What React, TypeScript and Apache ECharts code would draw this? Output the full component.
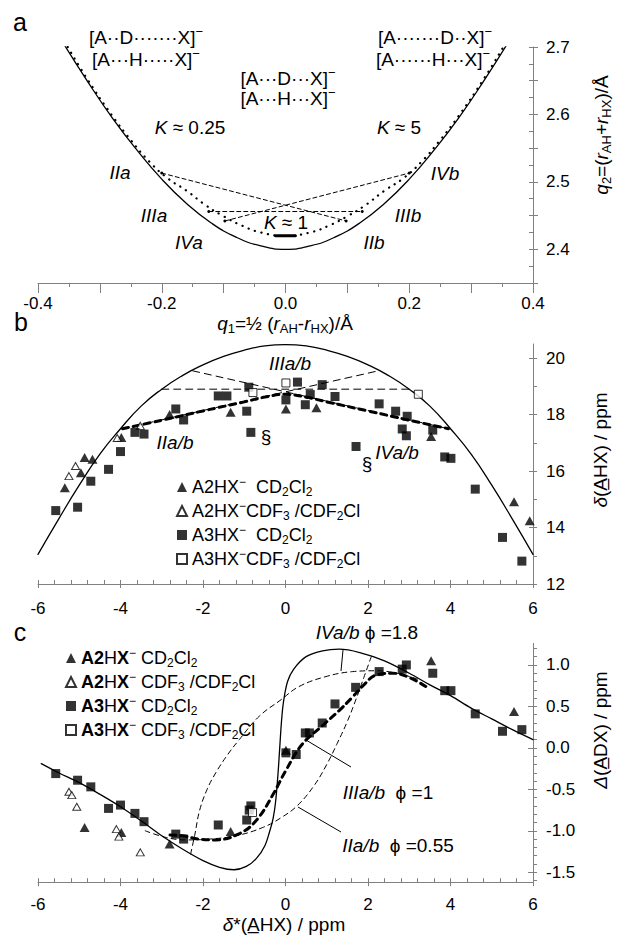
import React, { useEffect, useRef } from 'react';
import * as echarts from 'echarts';

const FONT = '"Liberation Sans", Arial, Helvetica, sans-serif';
const AX = '#808080';

// ---------------- panel a : q2 vs q1 ----------------
const aSolid = [[-0.36, 2.707], [-0.32, 2.649], [-0.28, 2.595], [-0.24, 2.547], [-0.2, 2.504], [-0.16, 2.468], [-0.12, 2.439], [-0.08, 2.418], [-0.04, 2.405], [0, 2.4], [0.04, 2.405], [0.08, 2.418], [0.12, 2.439], [0.16, 2.468], [0.2, 2.504], [0.24, 2.547], [0.28, 2.595], [0.32, 2.649], [0.36, 2.707]];
const aDotted = [[-0.352, 2.7], [-0.32, 2.652], [-0.28, 2.598], [-0.25, 2.562], [-0.22, 2.53], [-0.19, 2.505], [-0.16, 2.487], [-0.13, 2.466], [-0.1, 2.449], [-0.07, 2.435], [-0.04, 2.425], [0, 2.42], [0.04, 2.425], [0.07, 2.435], [0.1, 2.449], [0.13, 2.466], [0.16, 2.487], [0.19, 2.505], [0.22, 2.53], [0.25, 2.562], [0.28, 2.598], [0.32, 2.652], [0.352, 2.7]];
const aLineII = [[-0.2, 2.513], [0.098, 2.442]];
const aLineIV = [[-0.098, 2.442], [0.2, 2.513]];
const aLineIII = [[-0.124, 2.456], [0.124, 2.456]];
const aK1 = [[-0.016, 2.42], [0.016, 2.42]];
const aXTicksMajor = [-0.4, -0.3, -0.2, -0.1, 0, 0.1, 0.2, 0.3, 0.4];
const aXTicksMinor = [-0.35, -0.25, -0.15, -0.05, 0.05, 0.15, 0.25, 0.35];
const aXLabels = [-0.4, -0.2, 0, 0.2, 0.4];
const aYTicksMajor = [2.35, 2.4, 2.45, 2.5, 2.55, 2.6, 2.65, 2.7];
const aYTicksAll = [2.35, 2.375, 2.4, 2.425, 2.45, 2.475, 2.5, 2.525, 2.55, 2.575, 2.6, 2.625, 2.65, 2.675, 2.7];
const aYLabels = [2.4, 2.5, 2.6, 2.7];

// ---------------- panel b : delta(AHX) vs delta* ----------------
const bSolid = [[-6, 13.05], [-5.5, 14.3], [-5, 15.5], [-4.5, 16.6], [-4, 17.5], [-3.5, 18.3], [-3, 18.9], [-2.5, 19.38], [-2, 19.76], [-1.5, 20.06], [-1, 20.28], [-0.5, 20.43], [0, 20.48], [0.5, 20.43], [1, 20.28], [1.5, 20.06], [2, 19.76], [2.5, 19.38], [3, 18.9], [3.5, 18.3], [4, 17.5], [4.5, 16.6], [5, 15.5], [5.5, 14.3], [6, 13.05]];
const bLineH = [[-3, 18.9], [3, 18.9]];
const bLineUp = [[-3.95, 17.5], [2.25, 19.55]];
const bLineDown = [[-2.25, 19.55], [3.95, 17.5]];
const bThick = [[-3.95, 17.5], [-3, 17.8], [-2, 18.13], [-1, 18.45], [-0.5, 18.62], [0, 18.72], [0.5, 18.62], [1, 18.45], [2, 18.13], [3, 17.8], [3.95, 17.5]];
const bA2CD = [[-5.35, 15.41], [-4.96, 15.94], [-4.87, 16.48], [-4.68, 16.42], [-3.98, 17.19], [-2.81, 18.0], [-1.33, 18.08], [0.01, 18.2], [0.75, 18.24], [3.53, 17.22], [5.54, 14.91], [5.92, 14.24]];
const bA2CF = [[-5.25, 15.82], [-5.09, 16.18], [-4.08, 17.17], [-3.52, 17.6]];
const bA3CD = [[-5.57, 14.6], [-5.04, 14.72], [-4.72, 15.64], [-4.29, 16.06], [-4.0, 16.69], [-3.65, 17.37], [-3.43, 17.31], [-2.66, 18.2], [-2.47, 17.81], [-1.63, 18.66], [-1.42, 18.66], [-0.94, 18.12], [-0.89, 18.97], [-0.84, 17.37], [0.01, 18.52], [0.29, 19.15], [0.48, 18.35], [0.6, 18.71], [0.89, 19.06], [1.2, 18.64], [1.71, 16.87], [2.27, 18.38], [2.67, 18.12], [2.95, 17.94], [2.83, 17.49], [2.93, 17.25], [3.57, 17.45], [3.86, 16.5], [4.01, 16.45], [4.6, 15.36], [5.26, 13.65], [5.73, 12.81]];
const bA3CF = [[-0.79, 18.78], [0.01, 19.12], [3.22, 18.72]];
const bcXTicksMajor = [-6, -4, -2, 0, 2, 4, 6];
const bcXTicksMinor = [-6, -5.6, -5.2, -4.8, -4.4, -4, -3.6, -3.2, -2.8, -2.4, -2, -1.6, -1.2, -0.8, -0.4, 0, 0.4, 0.8, 1.2, 1.6, 2, 2.4, 2.8, 3.2, 3.6, 4, 4.4, 4.8, 5.2, 5.6, 6];
const bYTicksAll = [12, 13, 14, 15, 16, 17, 18, 19, 20];
const bYTicksMajor = [12, 14, 16, 18, 20];

// ---------------- panel c : Delta(ADX) vs delta* ----------------
const cSolid = [[-5.92, -0.19], [-5.5, -0.3], [-5, -0.42], [-4.5, -0.56], [-4, -0.71], [-3.5, -0.88], [-3, -1.06], [-2.5, -1.22], [-2, -1.36], [-1.6, -1.44], [-1.25, -1.47], [-0.95, -1.43], [-0.7, -1.33], [-0.5, -1.18], [-0.38, -1.0], [-0.3, -0.85], [-0.24, -0.65], [-0.18, -0.3], [-0.14, 0.0], [-0.1, 0.3], [-0.05, 0.55], [0.05, 0.8], [0.2, 0.95], [0.5, 1.1], [0.9, 1.17], [1.3, 1.19], [1.8, 1.15], [2.4, 1.05], [3, 0.9], [3.5, 0.76], [4, 0.63], [4.5, 0.48], [5, 0.35], [5.5, 0.22], [6, 0.1]];
const cIVab = [[-2.3, -1.28], [-2.2, -1.05], [-2.08, -0.75], [-1.9, -0.5], [-1.69, -0.3], [-1.4, -0.08], [-1.12, 0.1], [-0.64, 0.38], [-0.11, 0.58], [0.33, 0.74], [0.98, 0.86], [1.63, 0.92], [2.2, 0.93], [2.7, 0.9], [3.2, 0.83]];
const cIIab = [[-3.4, -1.0], [-2.9, -1.08], [-2.4, -1.11], [-1.85, -1.1], [-1.2, -1.06], [-0.55, -0.96], [-0.1, -0.84], [0.3, -0.69], [0.7, -0.45], [1.0, -0.2], [1.25, 0.05], [1.5, 0.32], [1.72, 0.6], [1.9, 0.85], [2.08, 1.1]];
const cIIIab = [[-2.8, -1.05], [-2.5, -1.06], [-2.1, -1.1], [-1.7, -1.11], [-1.1, -1.03], [-0.7, -0.87], [-0.3, -0.56], [0, -0.28], [0.4, 0.04], [0.9, 0.27], [1.3, 0.45], [1.6, 0.6], [1.9, 0.76], [2.2, 0.88], [2.6, 0.9], [3.0, 0.85], [3.4, 0.74]];
const cA2CD = [[-4.87, -0.96], [-3.98, -1.02], [-2.81, -1.16], [-1.33, -1.01], [0.01, -0.03], [3.53, 1.05], [5.54, 0.44]];
const cA2CF = [[-5.25, -0.53], [-5.18, -0.57], [-5.06, -0.71], [-4.1, -0.98], [-4.04, -1.07], [-3.52, -1.26]];
const cA3CD = [[-5.57, -0.31], [-5.04, -0.39], [-4.72, -0.47], [-4.29, -0.73], [-4.0, -0.69], [-3.65, -0.79], [-3.43, -0.89], [-2.66, -1.04], [-2.47, -1.1], [-1.63, -0.93], [-0.94, -0.87], [-0.88, -0.75], [-0.84, -0.7], [0.01, -0.06], [0.26, -0.08], [0.48, 0.18], [0.58, 0.18], [0.89, 0.3], [1.2, 0.53], [1.7, 0.73], [2.27, 0.92], [2.83, 0.95], [2.93, 1.0], [3.57, 0.9], [3.86, 0.69], [4.01, 0.69], [4.6, 0.41], [5.26, 0.2], [5.73, 0.22]];
const cA3CF = [[-0.8, -0.78]];
const cYTicksAll = [-1.6, -1.5, -1.4, -1.3, -1.2, -1.1, -1.0, -0.9, -0.8, -0.7, -0.6, -0.5, -0.4, -0.3, -0.2, -0.1, 0, 0.1, 0.2, 0.3, 0.4, 0.5, 0.6, 0.7, 0.8, 0.9, 1.0, 1.1, 1.2];
const cYTicksMajor = [-1.5, -1.0, -0.5, 0, 0.5, 1.0];

const seriesNames = ['A2HX- CD2Cl2', 'A2HX- CDF3/CDF2Cl', 'A3HX- CD2Cl2', 'A3HX- CDF3/CDF2Cl'];
const legendB = [
  '{n|A2HX}{p|−}{n|  CD}{s|2}{n|Cl}{s|2}',
  '{n|A2HX}{p|−}{n|CDF}{s|3}{n| /CDF}{s|2}{n|Cl}',
  '{n|A3HX}{p|−}{n|  CD}{s|2}{n|Cl}{s|2}',
  '{n|A3HX}{p|−}{n|CDF}{s|3}{n| /CDF}{s|2}{n|Cl}',
];
const legendC = [
  '{b|A2}{n|H}{b|X}{p|−}{n| CD}{s|2}{n|Cl}{s|2}',
  '{b|A2}{n|H}{b|X}{p|−}{n| CDF}{s|3}{n| /CDF}{s|2}{n|Cl}',
  '{b|A3}{n|H}{b|X}{p|−}{n| CD}{s|2}{n|Cl}{s|2}',
  '{b|A3}{n|H}{b|X}{p|−}{n| CDF}{s|3}{n| /CDF}{s|2}{n|Cl}',
];

const RL = {
  n: { fontSize: 18, fontFamily: FONT, lineHeight: 22, color: '#000' },
  b: { fontSize: 18, fontFamily: FONT, lineHeight: 22, fontWeight: 'bold', color: '#000' },
  s: { fontSize: 12, fontFamily: FONT, lineHeight: 12, verticalAlign: 'bottom', color: '#000' },
  p: { fontSize: 12, fontFamily: FONT, lineHeight: 12, verticalAlign: 'top', color: '#000' },
};

const RG: any = {
  n: { fontSize: 19, fontFamily: FONT, lineHeight: 24 },
  i: { fontSize: 19, fontFamily: FONT, fontStyle: 'italic', lineHeight: 24 },
  s: { fontSize: 13, fontFamily: FONT, lineHeight: 13, verticalAlign: 'bottom' },
  L: { fontSize: 19, fontFamily: FONT, lineHeight: 24 },
  Lp: { fontSize: 13, fontFamily: FONT, lineHeight: 13, verticalAlign: 'top' },
  t: { fontSize: 19, fontFamily: FONT, fontStyle: 'italic', lineHeight: 24 },
  g: { fontSize: 25, fontFamily: FONT, lineHeight: 28 },
};

function T(x: number, y: number, text: string, rot = 0) {
  return {
    type: 'text',
    x,
    y,
    rotation: rot,
    silent: true,
    z: 50,
    style: {
      text,
      rich: RG,
      fill: '#000',
      fontSize: 19,
      fontFamily: FONT,
      align: 'center',
      verticalAlign: 'middle',
      textAlign: 'center',
      textVerticalAlign: 'middle',
    },
  };
}

function axis(o: any) {
  return {
    type: 'value',
    gridIndex: o.grid,
    min: o.min,
    max: o.max,
    position: o.pos,
    axisLine: { show: !!o.line, onZero: false, lineStyle: { color: AX, width: 1 } },
    axisTick: { show: true, inside: !!o.inside, length: o.len, customValues: o.ticks, lineStyle: { color: AX, width: 1 } },
    axisLabel: o.labels
      ? { show: true, customValues: o.labels, formatter: (v: number) => v.toFixed(o.dec), margin: o.margin, fontSize: 17, fontFamily: FONT, color: '#000' }
      : { show: false },
    splitLine: { show: false },
    axisPointer: { show: false },
  };
}

function line(idx: number, data: number[][], width: number, type: any, smooth: number | boolean = false, extra: any = {}) {
  return {
    type: 'line',
    xAxisIndex: idx,
    yAxisIndex: idx,
    data,
    symbol: 'none',
    showSymbol: false,
    smooth,
    silent: true,
    z: 2,
    lineStyle: { color: '#000', width, type, cap: 'round' },
    ...extra,
  };
}

const endDots = { symbol: 'circle', showSymbol: true, symbolSize: 3, itemStyle: { color: '#000' } };

function pts(idx: number, name: string, data: number[][], kind: string) {
  const filled = kind === 'ft' || kind === 'fs';
  const tri = kind === 'ft' || kind === 'ot';
  return {
    type: 'scatter',
    name,
    xAxisIndex: idx,
    yAxisIndex: idx,
    data,
    symbol: tri ? 'triangle' : 'rect',
    symbolSize: tri ? (filled ? [10, 9] : [8, 7]) : filled ? 9 : 8,
    itemStyle: filled ? { color: '#000' } : { color: '#fff', borderColor: '#000', borderWidth: 1 },
    z: 5,
    silent: true,
  };
}

function buildOption() {
  const grids = [
    { left: 38, top: 47, width: 495, height: 236 },
    { left: 38, top: 344, width: 495, height: 240 },
    { left: 38, top: 643.4, width: 495, height: 238.8 },
  ];
  const xAxis = [
    axis({ grid: 0, min: -0.4, max: 0.4, pos: 'bottom', line: true, len: 10, ticks: aXTicksMajor, labels: aXLabels, dec: 1, margin: 12 }),
    axis({ grid: 0, min: -0.4, max: 0.4, pos: 'bottom', len: 4, ticks: aXTicksMinor }),
    axis({ grid: 1, min: -6, max: 6, pos: 'bottom', line: true, len: 4, ticks: bcXTicksMajor, labels: bcXTicksMajor, dec: 0, margin: 16 }),
    axis({ grid: 1, min: -6, max: 6, pos: 'bottom', inside: true, len: 4, ticks: bcXTicksMinor }),
    axis({ grid: 2, min: -6, max: 6, pos: 'bottom', line: true, len: 4, ticks: bcXTicksMajor, labels: bcXTicksMajor, dec: 0, margin: 14 }),
    axis({ grid: 2, min: -6, max: 6, pos: 'bottom', inside: true, len: 4, ticks: bcXTicksMinor }),
  ];
  const yAxis = [
    axis({ grid: 0, min: 2.35, max: 2.7, pos: 'right', line: true, len: 5, ticks: aYTicksMajor, labels: aYLabels, dec: 1, margin: 13 }),
    axis({ grid: 0, min: 2.35, max: 2.7, pos: 'right', inside: true, len: 4, ticks: aYTicksAll }),
    axis({ grid: 1, min: 12, max: 20.5, pos: 'right', line: true, len: 4, ticks: bYTicksAll, labels: bYTicksMajor, dec: 0, margin: 13 }),
    axis({ grid: 1, min: 12, max: 20.5, pos: 'right', inside: true, len: 4, ticks: bYTicksMajor }),
    axis({ grid: 2, min: -1.62, max: 1.26, pos: 'right', line: true, len: 4, ticks: cYTicksAll, labels: cYTicksMajor, dec: 1, margin: 13 }),
    axis({ grid: 2, min: -1.62, max: 1.26, pos: 'right', inside: true, len: 5, ticks: cYTicksMajor }),
  ];

  const series: any[] = [
    // panel a
    line(0, aSolid, 1.3, 'solid', 0.5),
    line(0, aDotted, 2.2, [0.2, 6.5], 0.5),
    line(0, aLineII, 1, [4, 3], false, endDots),
    line(0, aLineIV, 1, [4, 3], false, endDots),
    line(0, aLineIII, 1, [4, 3], false, endDots),
    line(0, aK1, 3, 'solid'),
    // panel b
    line(2, bSolid, 1.3, 'solid', 0.5),
    line(2, bLineH, 1, [7, 5]),
    line(2, bLineUp, 1, [7, 5]),
    line(2, bLineDown, 1, [7, 5]),
    line(2, bThick, 3, [6, 5], 0.4),
    pts(2, seriesNames[0], bA2CD, 'ft'),
    pts(2, seriesNames[1], bA2CF, 'ot'),
    pts(2, seriesNames[2], bA3CD, 'fs'),
    pts(2, seriesNames[3], bA3CF, 'os'),
    // panel c
    line(4, cSolid, 1.3, 'solid', 0.35),
    line(4, cIVab, 1, [5, 4], 0.4),
    line(4, cIIab, 1, [5, 4], 0.4),
    line(4, cIIIab, 3, [6, 5], 0.4),
    pts(4, seriesNames[0], cA2CD, 'ft'),
    pts(4, seriesNames[1], cA2CF, 'ot'),
    pts(4, seriesNames[2], cA3CD, 'fs'),
    pts(4, seriesNames[3], cA3CF, 'os'),
  ];

  const mkLegend = (left: number, top: number, texts: string[]) => ({
    data: seriesNames,
    orient: 'vertical',
    left,
    top,
    itemWidth: 10,
    itemHeight: 10,
    itemGap: 2,
    selectedMode: false,
    formatter: (n: string) => texts[seriesNames.indexOf(n)],
    textStyle: { rich: RL, fontSize: 18, fontFamily: FONT, color: '#000' },
  });

  const leader = (x1: number, y1: number, x2: number, y2: number) => ({
    type: 'line',
    silent: true,
    z: 50,
    shape: { x1, y1, x2, y2 },
    style: { stroke: '#000', lineWidth: 1 },
  });

  const graphic = [
    // panel letters
    T(20, 22, '{g|a}'),
    T(21, 322, '{g|b}'),
    T(20, 632, '{g|c}'),
    // panel a texts
    T(146, 37, '{L|[A··D·······X]}{Lp|−}'),
    T(146, 59, '{L|[A···H·····X]}{Lp|−}'),
    T(288, 78, '{L|[A···D···X]}{Lp|−}'),
    T(288, 98, '{L|[A···H···X]}{Lp|−}'),
    T(435, 37, '{L|[A·······D··X]}{Lp|−}'),
    T(433, 59, '{L|[A······H···X]}{Lp|−}'),
    T(190, 127, '{i|K}{n| ≈ 0.25}'),
    T(399, 127, '{i|K}{n| ≈ 5}'),
    T(286, 222, '{i|K}{n| ≈ 1}'),
    T(120, 172, '{t|IIa}'),
    T(445, 173, '{t|IVb}'),
    T(154, 215, '{t|IIIa}'),
    T(408, 215, '{t|IIIb}'),
    T(189, 242, '{t|IVa}'),
    T(374, 242, '{t|IIb}'),
    T(285, 323, '{i|q}{s|1}{n|=½ (}{i|r}{s|AH}{n|-}{i|r}{s|HX}{n|)/Å}'),
    T(601, 135, '{i|q}{s|2}{n|=(}{i|r}{s|AH}{n|+}{i|r}{s|HX}{n|)/Å}', Math.PI / 2),
    // panel b texts
    T(290, 363, '{t|IIIa/b}'),
    T(175, 442, '{t|IIa/b}'),
    T(266, 436, '{n|§}'),
    T(397, 452, '{t|IVa/b}'),
    T(367, 463, '{n|§}'),
    T(600, 450, '{i|δ}{n|(A\u0332HX) / ppm}', Math.PI / 2),
    // panel c texts
    T(367, 632, '{t|IVa/b}{n| ϕ =1.8}'),
    T(388, 792, '{t|IIIa/b}{n|  ϕ =1}'),
    T(398, 845, '{t|IIa/b}{n|  ϕ =0.55}'),
    leader(343, 650, 341, 671),
    leader(351, 767, 306, 740),
    leader(341, 832, 298, 807),
    T(284, 924, '{i|δ}{n|*(A\u0332HX) / ppm}'),
    T(600, 730, '{i|Δ}{n|(A\u0332DX) / ppm}', Math.PI / 2),
  ];

  return {
    animation: false,
    backgroundColor: '#fff',
    textStyle: { fontFamily: FONT },
    grid: grids,
    xAxis,
    yAxis,
    series,
    legend: [mkLegend(171, 471, legendB), mkLegend(60, 642, legendC)],
    graphic,
  };
}

export default function App() {
  const ref = useRef<HTMLDivElement>(null);
  useEffect(() => {
    document.body.style.margin = '0';
    const chart = echarts.init(ref.current as HTMLDivElement, null, { renderer: 'svg' });
    chart.setOption(buildOption() as any);
    return () => chart.dispose();
  }, []);
  return <div ref={ref} style={{ position: 'absolute', left: 0, top: 0, width: 618, height: 936, background: '#fff' }} />;
}
